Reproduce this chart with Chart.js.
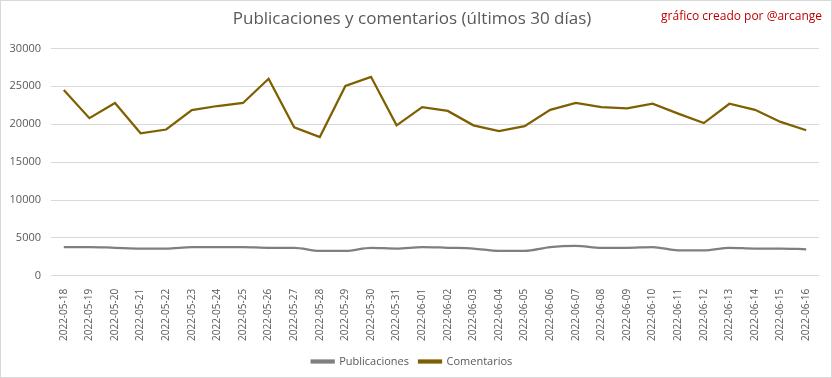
<!DOCTYPE html>
<html>
<head>
<meta charset="utf-8">
<script src="https://cdn.jsdelivr.net/npm/chart.js@4"></script>
<style>
html,body{margin:0;padding:0;background:#fff;}
#wrap{position:relative;width:830px;height:376px;border:1px solid #d9d9d9;}
canvas{display:block;}
</style>
</head>
<body>
<div id="wrap"><canvas id="c" width="830" height="376"></canvas></div>
<script>
const categories = ["2022-05-18","2022-05-19","2022-05-20","2022-05-21","2022-05-22","2022-05-23","2022-05-24","2022-05-25","2022-05-26","2022-05-27","2022-05-28","2022-05-29","2022-05-30","2022-05-31","2022-06-01","2022-06-02","2022-06-03","2022-06-04","2022-06-05","2022-06-06","2022-06-07","2022-06-08","2022-06-09","2022-06-10","2022-06-11","2022-06-12","2022-06-13","2022-06-14","2022-06-15","2022-06-16"];
const publicaciones = [3800,3800,3700,3600,3600,3800,3800,3800,3700,3700,3300,3300,3700,3600,3800,3700,3600,3300,3300,3800,3950,3700,3700,3800,3350,3350,3700,3600,3600,3500];
const comentarios = [24500,20800,22800,18800,19300,21850,22400,22800,26000,19600,18300,25050,26250,19850,22250,21750,19850,19100,19750,21900,22800,22250,22100,22700,21400,20150,22700,21900,20300,19200];
const yTicks = [0,5000,10000,15000,20000,25000,30000];

const creditPlugin = {
  id: 'credit',
  afterDraw(chart) {
    const ctx = chart.ctx;
    ctx.save();
    ctx.font = '12px "Open Sans", sans-serif';
    ctx.fillStyle = '#c00000';
    ctx.textAlign = 'right';
    ctx.textBaseline = 'middle';
    ctx.fillText('gráfico creado por @arcange', 821, 16);
    ctx.restore();
  }
};

new Chart(document.getElementById('c'), {
  type: 'line',
  data: {
    labels: categories,
    datasets: [
      {label: 'Publicaciones', data: publicaciones, borderColor: '#7f7f7f', backgroundColor: '#7f7f7f', borderWidth: 2.25, pointRadius: 0, tension: 0.3, cubicInterpolationMode: 'monotone'},
      {label: 'Comentarios', data: comentarios, borderColor: '#7f6000', backgroundColor: '#7f6000', borderWidth: 2.25, pointRadius: 0, tension: 0}
    ]
  },
  options: {
    responsive: false,
    animation: false,
    layout: {padding: {left: 4, right: 12, top: 0, bottom: 0}},
    plugins: {
      title: {display: true, text: 'Publicaciones y comentarios (últimos 30 días)', color: '#595959', font: {family: '"Open Sans", sans-serif', size: 17, weight: 'normal'}, padding: {top: 8, bottom: 19}},
      legend: {position: 'bottom', labels: {color: '#595959', font: {family: '"Open Sans", sans-serif', size: 11}, boxWidth: 22, boxHeight: 2, padding: 10}},
      tooltip: {enabled: false}
    },
    scales: {
      x: {
        offset: true,
        grid: {display: false},
        border: {display: false},
        ticks: {color: '#595959', font: {family: '"Open Sans", sans-serif', size: 10}, minRotation: 90, maxRotation: 90, autoSkip: false, padding: 5}
      },
      y: {
        min: 0, max: 30000,
        afterBuildTicks(axis) { axis.ticks = yTicks.map(v => ({value: v})); },
        afterFit(axis) { axis.width = 46; },
        grid: {color: '#d9d9d9', drawTicks: false},
        border: {display: false},
        ticks: {color: '#595959', font: {family: '"Open Sans", sans-serif', size: 11}, padding: 10, callback: v => String(v)}
      }
    }
  },
  plugins: [creditPlugin]
});
</script>
</body>
</html>
